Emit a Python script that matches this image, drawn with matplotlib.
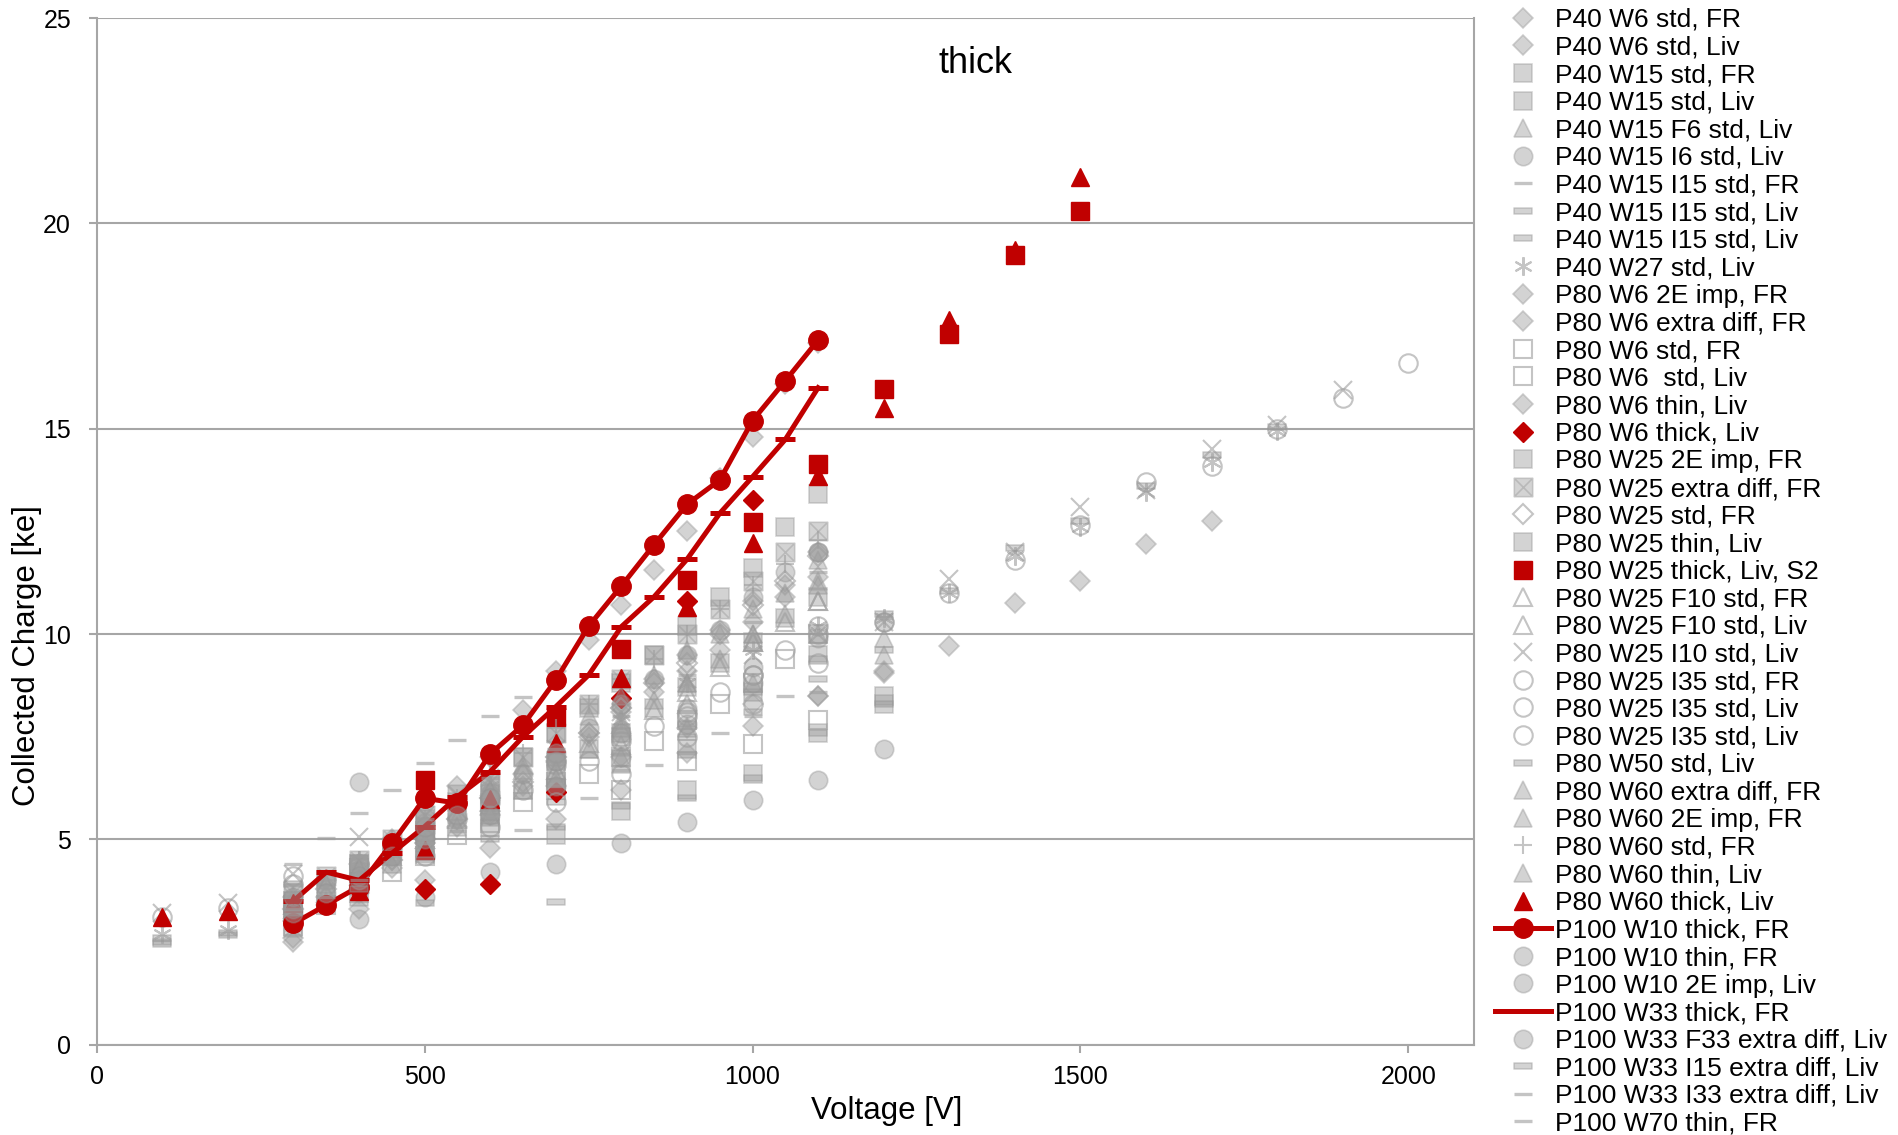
import matplotlib
matplotlib.use("Agg")
import matplotlib.pyplot as plt
from matplotlib.path import Path

plt.rcParams['font.family'] = ['Liberation Sans', 'DejaVu Sans']

# ---------------- data ----------------
V50 = [300, 350, 400, 450, 500, 550, 600, 650, 700, 750, 800, 850, 900, 950, 1000, 1050, 1100]
V100 = [300, 400, 500, 600, 700, 800, 900, 1000, 1100]
V100_1200 = [300, 400, 500, 600, 700, 800, 900, 1000, 1100, 1200]

Q_P40_W6_FR = [2.5, 3.4, 3.8, 4.3, 4.9, 5.3, 5.7, 6.3, 6.9, 7.5, 8.1, 8.6, 9.1, 9.6, 10.3, 10.9, 11.4]
V_P40_W6_LIV = [400, 500, 600, 700, 800, 900, 1000, 1100, 1200, 1300, 1400, 1500, 1600, 1700]
Q_P40_W6_LIV = [3.7, 4.9, 5.6, 6.3, 7.0, 7.7, 8.3, 8.5, 9.05, 9.72, 10.75, 11.28, 12.19, 12.75]
Q_P40_W15_FR = [3.2, 3.7, 4.2, 4.8, 5.3, 5.9, 6.4, 7.0, 7.6, 8.2, 8.8, 9.5, 10.2, 10.9, 11.6, 12.6, 13.4]
Q_P40_W15_LIV = [3.0, 3.9, 4.7, 5.3, 5.1, 5.7, 6.2, 6.6, 7.6, 8.3]
Q_P40_W15_F6_LIV = [3.6, 4.2, 5.3, 6.2, 7.0, 7.9, 8.8, 10.0, 11.3, 9.9]
Q_P40_W15_I6_LIV = [3.1, 3.05, 3.6, 4.2, 4.4, 4.9, 5.43, 5.96, 6.45, 7.2]
V_P40_W15_I15_FR = [300, 350, 400, 450, 500, 550, 600, 650, 700]
Q_P40_W15_I15_FR = [4.41, 5.04, 5.63, 6.21, 6.85, 7.43, 8.0, 8.47, 8.8]
V_P40_W15_I15_LIV_A = [100, 200, 300, 400, 500, 700]
Q_P40_W15_I15_LIV_A = [2.5, 2.67, 2.7, 3.45, 3.45, 3.48]
V_P40_W15_I15_LIV_B = [100, 200, 300, 400, 500, 600, 700, 800, 900, 1000, 1100, 1200]
Q_P40_W15_I15_LIV_B = [2.6, 2.72, 3.3, 4.1, 4.7, 5.4, 5.9, 6.7, 7.5, 8.1, 8.9, 9.6]
V_P40_W27_LIV = [100, 200, 300, 400, 500, 600, 700, 800, 900, 1000, 1100, 1200, 1300, 1400, 1500, 1600, 1700, 1800]
Q_P40_W27_LIV = [2.7, 2.8, 3.5, 4.5, 5.2, 6.3, 7.0, 7.9, 8.8, 9.6, 10.2, 10.4, 11.0, 11.9, 12.6, 13.45, 14.2, 14.95]
Q_P80_W6_2E_FR = [3.0, 3.6, 4.0, 4.5, 5.0, 5.5, 6.0, 6.6, 7.0, 7.6, 8.2, 8.9, 9.5, 10.1, 10.8, 11.2, 12.0]
Q_P80_W6_XD_FR = [3.6, 4.0, 4.4, 5.0, 5.6, 6.3, 7.0, 8.15, 9.1, 9.85, 10.7, 11.55, 12.5, 13.8, 14.8, 16.1, 17.1]
Q_P80_W6_STD_FR = [2.9, 3.4, 3.7, 4.2, 4.6, 5.1, 5.4, 5.9, 6.2, 6.6, 7.0, 7.4, 7.9, 8.3, 8.8, 9.4, 10.0]
Q_P80_W6_STD_LIV = [3.4, 4.3, 5.2, 5.8, 6.4, 6.2, 6.9, 7.33, 7.9]
Q_P80_W6_THIN_LIV = [2.6, 3.3, 4.0, 4.8, 5.5, 6.2, 7.1, 7.75, 8.5, 9.1]
V_P80_W6_THICK_LIV = [500, 600, 700, 800, 900, 1000]
Q_P80_W6_THICK_LIV = [3.8, 3.9, 6.16, 8.45, 10.8, 13.27]
Q_P80_W25_2E_FR = [3.5, 4.0, 4.4, 4.6, 5.1, 5.6, 5.9, 6.2, 6.6, 7.2, 7.6, 8.2, 8.7, 9.3, 9.8, 10.4, 10.9]
Q_P80_W25_XD_FR = [3.7, 4.1, 4.5, 5.0, 5.6, 6.1, 6.4, 7.0, 7.6, 8.3, 8.9, 9.5, 10.0, 10.6, 11.3, 12.0, 12.5]
Q_P80_W25_STD_FR = [3.3, 3.8, 4.1, 4.5, 5.0, 5.5, 6.0, 6.4, 7.0, 7.6, 8.2, 8.8, 9.3, 10.0, 10.7, 11.3, 11.9]
Q_P80_W25_THIN_LIV = [3.5, 4.4, 5.5, 6.1, 6.9, 7.5, 7.2, 8.6, 9.5, 8.5]
V_P80_W25_THICK_LIV = [500, 700, 800, 900, 1000, 1100, 1200, 1300, 1400, 1500]
Q_P80_W25_THICK_LIV = [6.45, 7.98, 9.63, 11.32, 12.74, 14.15, 15.98, 17.3, 19.24, 20.31]
Q_P80_W25_F10_FR = [3.3, 3.7, 4.1, 4.6, 5.0, 5.5, 6.3, 6.7, 7.1, 7.35, 7.8, 8.15, 8.6, 9.2, 9.8, 10.3, 10.8]
Q_P80_W25_F10_LIV = [3.4, 4.0, 5.0, 5.9, 6.7, 7.3, 8.3, 9.8, 10.8]
V_P80_W25_I10_LIV = [100, 200, 300, 400, 500, 600, 700, 800, 900, 1000, 1100, 1200, 1300, 1400, 1500, 1600, 1700, 1800, 1900]
Q_P80_W25_I10_LIV = [3.2, 3.45, 4.15, 5.06, 5.6, 6.5, 7.2, 8.1, 8.9, 9.5, 10.0, 10.3, 11.35, 12.0, 13.1, 13.5, 14.5, 15.1, 15.95]
Q_P80_W25_I35_FR = [4.1, 4.0, 4.4, 4.8, 5.4, 5.5, 6.1, 6.2, 6.8, 6.9, 7.5, 7.75, 8.1, 8.6, 9.0, 9.6, 10.2]
V_P80_W25_I35_LIV_A = [100, 200, 300, 400, 500, 600, 700, 800, 900, 1000, 1100]
Q_P80_W25_I35_LIV_A = [3.12, 3.32, 3.9, 4.4, 5.2, 5.9, 6.9, 7.4, 8.0, 9.0, 10.0]
V_P80_W25_I35_LIV_B = [300, 400, 500, 600, 700, 800, 900, 1000, 1100, 1200, 1300, 1400, 1500, 1600, 1700, 1800, 1900, 2000]
Q_P80_W25_I35_LIV_B = [3.0, 3.8, 4.6, 5.3, 5.9, 6.6, 7.5, 8.3, 9.3, 10.3, 11.0, 11.8, 12.65, 13.7, 14.1, 15.0, 15.75, 16.6]
V_P80_W50_LIV = [100, 300, 400, 500, 600, 700, 800, 900, 1000, 1100, 1200, 1300, 1400, 1500, 1600, 1700, 1800]
Q_P80_W50_LIV = [2.45, 3.9, 4.1, 5.0, 5.7, 6.4, 7.1, 7.8, 8.6, 9.4, 10.5, 11.05, 12.1, 12.75, 13.6, 14.35, 15.05]
Q_P80_W60_XD_FR = [3.4, 3.9, 4.3, 4.7, 5.2, 5.7, 6.2, 6.8, 7.3, 8.0, 8.5, 9.0, 9.6, 10.0, 10.6, 11.0, 11.8]
Q_P80_W60_2E_FR = [3.1, 3.5, 3.9, 4.4, 4.8, 5.3, 5.7, 6.2, 6.7, 7.2, 7.7, 8.4, 8.8, 9.4, 10.0, 10.5, 11.2]
Q_P80_W60_STD_FR = [3.5, 4.0, 4.5, 5.0, 5.5, 6.0, 6.6, 7.1, 7.7, 8.3, 8.9, 9.4, 10.0, 10.6, 11.2, 11.7, 12.3]
Q_P80_W60_THIN_LIV = [3.3, 4.0, 4.9, 5.6, 6.5, 7.0, 7.7, 8.8, 10.0, 9.5]
V_P80_W60_THICK_LIV = [100, 200, 300, 400, 500, 600, 700, 800, 900, 1000, 1100, 1200, 1300, 1400, 1500]
Q_P80_W60_THICK_LIV = [3.12, 3.25, 3.45, 3.75, 4.75, 5.98, 7.35, 8.92, 10.66, 12.21, 13.85, 15.5, 17.64, 19.35, 21.12]
Q_P100_W10_THICK_FR = [2.95, 3.4, 3.85, 4.9, 6.0, 5.88, 7.08, 7.78, 8.88, 10.19, 11.17, 12.18, 13.16, 13.75, 15.2, 16.17, 17.16]
Q_P100_W10_THIN_FR = [3.2, 3.7, 4.0, 4.6, 5.1, 5.6, 6.0, 6.6, 7.1, 7.7, 8.3, 8.9, 9.5, 10.1, 10.9, 11.5, 12.0]
Q_P100_W10_2E_LIV = [3.3, 4.1, 5.0, 5.6, 6.3, 7.0, 7.8, 8.8, 9.9, 10.3]
Q_P100_W33_THICK_FR = [3.5, 4.2, 4.0, 4.66, 5.31, 6.04, 6.65, 7.5, 8.23, 9.0, 10.18, 10.91, 11.82, 12.94, 13.83, 14.74, 16.0]
Q_P100_W33_F33_LIV = [3.6, 6.4, 5.3, 6.0, 6.9, 7.6, 8.2, 9.2, 12.0]
Q_P100_W33_I15_LIV = [3.2, 3.8, 4.5, 5.0, 5.3, 5.8, 6.0, 6.5, 7.6, 8.3]
Q_P100_W33_I33_LIV = [3.9, 4.6, 5.5, 6.5, 7.2, 8.0, 9.0, 10.3, 11.5, 10.4]
Q_P100_W70_THIN_FR = [3.3, 3.6, 4.0, 4.45, 4.9, 5.2, 5.6, 5.23, 6.3, 6.0, 6.7, 6.8, 7.1, 7.6, 8.0, 8.48, 8.6]

X_TICKS = [0, 500, 1000, 1500, 2000]
Y_TICKS = [0, 5, 10, 15, 20, 25]

# ---------------- styles ----------------
GRAY_F = (0.62, 0.62, 0.62, 0.45)
GRAY_E = (0.58, 0.58, 0.58, 0.40)
GRAY_O = (0.62, 0.62, 0.62, 0.60)
RED = '#C00000'

RECT_DASH = Path([(-1, -0.28), (1, -0.28), (1, 0.28), (-1, 0.28), (-1, -0.28)],
                 [Path.MOVETO, Path.LINETO, Path.LINETO, Path.LINETO, Path.CLOSEPOLY])
SQ_X = Path([(-1, -1), (1, -1), (1, 1), (-1, 1), (-1, -1),
             (-1, -1), (1, 1), (-1, 1), (1, -1)],
            [Path.MOVETO, Path.LINETO, Path.LINETO, Path.LINETO, Path.CLOSEPOLY,
             Path.MOVETO, Path.LINETO, Path.MOVETO, Path.LINETO])

MS = 13.3      # squares, circles, triangles
MS_D = 10.0    # diamonds


def filled(m, ms):
    return dict(marker=m, ms=ms, mfc=GRAY_F, mec=GRAY_E, mew=1.2, ls='none')


def opened(m, ms):
    return dict(marker=m, ms=ms, mfc='none', mec=GRAY_O, mew=1.5, ls='none')


def stroke(m, ms, mew):
    return dict(marker=m, ms=ms, mfc=GRAY_O, mec=GRAY_O, mew=mew, ls='none')


def red(m, ms, line=False):
    d = dict(marker=m, ms=ms, mfc=RED, mec=RED, mew=1.0, color=RED)
    if line:
        d.update(ls='-', lw=3.6)
    else:
        d.update(ls='none')
    return d


series = [
    ("P40 W6 std, FR", V50, Q_P40_W6_FR, filled('D', MS_D)),
    ("P40 W6 std, Liv", V_P40_W6_LIV, Q_P40_W6_LIV, filled('D', MS_D)),
    ("P40 W15 std, FR", V50, Q_P40_W15_FR, filled('s', MS)),
    ("P40 W15 std, Liv", V100_1200, Q_P40_W15_LIV, filled('s', MS)),
    ("P40 W15 F6 std, Liv", V100_1200, Q_P40_W15_F6_LIV, filled('^', MS)),
    ("P40 W15 I6 std, Liv", V100_1200, Q_P40_W15_I6_LIV, filled('o', MS)),
    ("P40 W15 I15 std, FR", V_P40_W15_I15_FR, Q_P40_W15_I15_FR, stroke('_', MS, 2.4)),
    ("P40 W15 I15 std, Liv", V_P40_W15_I15_LIV_A, Q_P40_W15_I15_LIV_A, filled(RECT_DASH, MS)),
    ("P40 W15 I15 std, Liv", V_P40_W15_I15_LIV_B, Q_P40_W15_I15_LIV_B, filled(RECT_DASH, MS)),
    ("P40 W27 std, Liv", V_P40_W27_LIV, Q_P40_W27_LIV, stroke((6, 2, 0), MS, 1.5)),
    ("P80 W6 2E imp, FR", V50, Q_P80_W6_2E_FR, filled('D', MS_D)),
    ("P80 W6 extra diff, FR", V50, Q_P80_W6_XD_FR, filled('D', MS_D)),
    ("P80 W6 std, FR", V50, Q_P80_W6_STD_FR, opened('s', MS)),
    ("P80 W6  std, Liv", V100, Q_P80_W6_STD_LIV, opened('s', MS)),
    ("P80 W6 thin, Liv", V100_1200, Q_P80_W6_THIN_LIV, filled('D', MS_D)),
    ("P80 W6 thick, Liv", V_P80_W6_THICK_LIV, Q_P80_W6_THICK_LIV, red('D', 10.0)),
    ("P80 W25 2E imp, FR", V50, Q_P80_W25_2E_FR, filled('s', MS)),
    ("P80 W25 extra diff, FR", V50, Q_P80_W25_XD_FR, filled(SQ_X, MS)),
    ("P80 W25 std, FR", V50, Q_P80_W25_STD_FR, opened('D', MS_D)),
    ("P80 W25 thin, Liv", V100_1200, Q_P80_W25_THIN_LIV, filled('s', MS)),
    ("P80 W25 thick, Liv, S2", V_P80_W25_THICK_LIV, Q_P80_W25_THICK_LIV, red('s', 13)),
    ("P80 W25 F10 std, FR", V50, Q_P80_W25_F10_FR, opened('^', MS)),
    ("P80 W25 F10 std, Liv", V100, Q_P80_W25_F10_LIV, opened('^', MS)),
    ("P80 W25 I10 std, Liv", V_P80_W25_I10_LIV, Q_P80_W25_I10_LIV, stroke('x', MS, 1.5)),
    ("P80 W25 I35 std, FR", V50, Q_P80_W25_I35_FR, opened('o', MS)),
    ("P80 W25 I35 std, Liv", V_P80_W25_I35_LIV_A, Q_P80_W25_I35_LIV_A, opened('o', MS)),
    ("P80 W25 I35 std, Liv", V_P80_W25_I35_LIV_B, Q_P80_W25_I35_LIV_B, opened('o', MS)),
    ("P80 W50 std, Liv", V_P80_W50_LIV, Q_P80_W50_LIV, filled(RECT_DASH, MS)),
    ("P80 W60 extra diff, FR", V50, Q_P80_W60_XD_FR, filled('^', MS)),
    ("P80 W60 2E imp, FR", V50, Q_P80_W60_2E_FR, filled('^', MS)),
    ("P80 W60 std, FR", V50, Q_P80_W60_STD_FR, stroke('+', MS, 1.5)),
    ("P80 W60 thin, Liv", V100_1200, Q_P80_W60_THIN_LIV, filled('^', MS)),
    ("P80 W60 thick, Liv", V_P80_W60_THICK_LIV, Q_P80_W60_THICK_LIV, red('^', 13.5)),
    ("P100 W10 thick, FR", V50, Q_P100_W10_THICK_FR, red('o', 14, line=True)),
    ("P100 W10 thin, FR", V50, Q_P100_W10_THIN_FR, filled('o', MS)),
    ("P100 W10 2E imp, Liv", V100_1200, Q_P100_W10_2E_LIV, filled('o', MS)),
    ("P100 W33 thick, FR", V50, Q_P100_W33_THICK_FR, dict(red('_', 14.5, line=True), mew=3.6)),
    ("P100 W33 F33 extra diff, Liv", V100, Q_P100_W33_F33_LIV, filled('o', MS)),
    ("P100 W33 I15 extra diff, Liv", V100_1200, Q_P100_W33_I15_LIV, filled(RECT_DASH, MS)),
    ("P100 W33 I33 extra diff, Liv", V100_1200, Q_P100_W33_I33_LIV, stroke('_', MS, 2.4)),
    ("P100 W70 thin, FR", V50, Q_P100_W70_THIN_FR, stroke('_', MS, 2.4)),
]

# ---------------- figure ----------------
W, H = 1899, 1135
fig = plt.figure(figsize=(W / 100, H / 100), dpi=100)
ax_l, ax_r, ax_t, ax_b = 96.7, 1474.0, 18.2, 1044.6
ax = fig.add_axes([ax_l / W, 1 - ax_b / H, (ax_r - ax_l) / W, (ax_b - ax_t) / H])

handles = []
labels = []
for lab, xs, ys, st in series:
    ln, = ax.plot(xs, ys, label=lab, **st)
    handles.append(ln)
    labels.append(lab)

GRID = '#A6A6A6'
ax.set_xlim(0, 2100)
ax.set_ylim(0, 25)
ax.set_xticks(X_TICKS)
ax.set_yticks(Y_TICKS)
ax.set_axisbelow(True)
ax.yaxis.grid(True, color=GRID, lw=1.5)
for s in ['left', 'bottom', 'right']:
    ax.spines[s].set_color(GRID)
    ax.spines[s].set_linewidth(1.5)
ax.spines['top'].set_visible(False)
ax.tick_params(axis='both', direction='out', length=5.5, width=1.5, color=GRID,
               labelsize=18, labelcolor='black')
ax.tick_params(axis='x', pad=9.5)
ax.tick_params(axis='y', pad=13)

ax.set_xlabel('Voltage [V]', fontsize=22.5)
ax.xaxis.label.set_va('center')
ax.xaxis.set_label_coords((886.5 - ax_l) / (ax_r - ax_l), (ax_b - 1111) / (ax_b - ax_t))
ax.set_ylabel('Collected Charge [ke]', fontsize=22.5)
ax.yaxis.label.set_va('center')
ax.yaxis.set_label_coords((26.6 - ax_l) / (ax_r - ax_l), (ax_b - 655.5) / (ax_b - ax_t))

ax.text(0.638, 0.9555, 'thick', transform=ax.transAxes, ha='center', va='center', fontsize=26)

fs = 19
leg = fig.legend(handles, labels, loc='upper left',
                 bbox_to_anchor=(1494.7 / W, 1 - 8.0 / H),
                 frameon=False, fontsize=fs, borderpad=0, borderaxespad=0,
                 handlelength=2.15, handletextpad=0.12, labelspacing=0.136,
                 numpoints=1)

fig.savefig('out.png', dpi=100)
